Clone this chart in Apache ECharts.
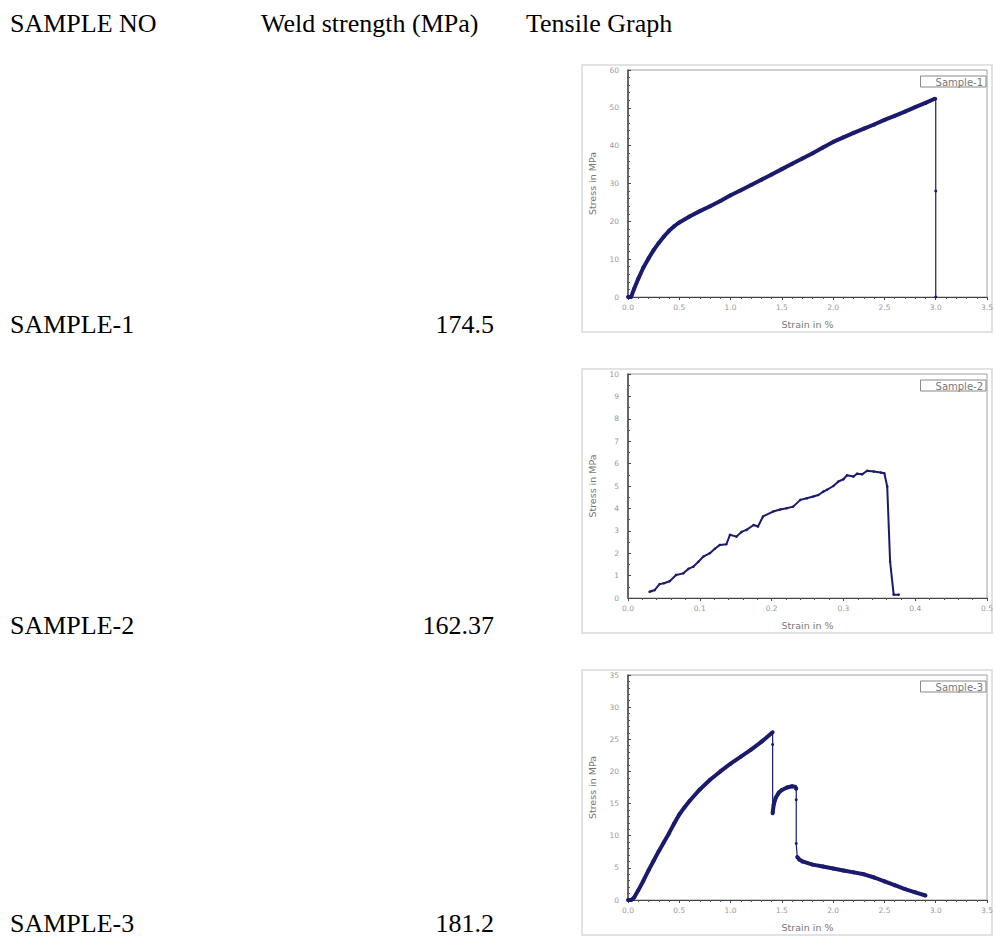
<!DOCTYPE html>
<html>
<head>
<meta charset="utf-8">
<script src="https://cdn.jsdelivr.net/npm/echarts@6/dist/echarts.min.js"></script>
<style>
  html, body { margin: 0; padding: 0; background: #fff; }
  #main { width: 996px; height: 937px; }
</style>
</head>
<body>
<div id="main"></div>
<script>
// table text
var headers = ['SAMPLE NO', 'Weld strength (MPa)', 'Tensile Graph'];
var sampleNames = ['SAMPLE-1', 'SAMPLE-2', 'SAMPLE-3'];
var weldStrength = ['174.5', '162.37', '181.2'];
var legendNames = ['Sample-1', 'Sample-2', 'Sample-3'];

// sample 1 (strain %, stress MPa)
var s1Strain = [0.0, 0.03, 0.06, 0.1, 0.15, 0.2, 0.25, 0.3, 0.35, 0.4, 0.45, 0.5, 0.6, 0.7, 0.8, 0.9, 1.0, 1.1, 1.2, 1.3, 1.4, 1.5, 1.6, 1.7, 1.8, 1.9, 2.0, 2.1, 2.2, 2.3, 2.4, 2.5, 2.6, 2.7, 2.8, 2.9, 2.99];
var s1Stress = [0, 0, 2.2, 4.8, 7.8, 10.2, 12.4, 14.3, 16, 17.5, 18.7, 19.7, 21.3, 22.7, 24, 25.4, 26.9, 28.2, 29.6, 31, 32.4, 33.8, 35.2, 36.6, 38, 39.5, 41, 42.2, 43.4, 44.5, 45.6, 46.8, 47.9, 49, 50.2, 51.3, 52.4];
var s1DropStrain = [3.0, 3.0, 3.0];
var s1DropStress = [52.4, 28, 0];

// sample 2
var s2Strain = [0.030, 0.033, 0.037, 0.044, 0.050, 0.058, 0.067, 0.077, 0.084, 0.091, 0.098, 0.105, 0.114, 0.121, 0.128, 0.137, 0.142, 0.151, 0.158, 0.165, 0.175, 0.181, 0.188, 0.202, 0.212, 0.221, 0.230, 0.240, 0.249, 0.258, 0.265, 0.272, 0.277, 0.286, 0.293, 0.300, 0.305, 0.314, 0.319, 0.326, 0.333, 0.342, 0.352, 0.357, 0.361, 0.365, 0.370, 0.377];
var s2Stress = [0.28, 0.31, 0.35, 0.62, 0.66, 0.75, 1.03, 1.1, 1.3, 1.4, 1.62, 1.85, 2.0, 2.2, 2.37, 2.4, 2.82, 2.74, 2.95, 3.04, 3.26, 3.19, 3.64, 3.86, 3.95, 4.01, 4.08, 4.38, 4.45, 4.53, 4.6, 4.75, 4.83, 5.0, 5.2, 5.3, 5.48, 5.42, 5.55, 5.52, 5.68, 5.65, 5.6, 5.57, 4.98, 1.62, 0.15, 0.15];

// sample 3
var s3RiseStrain = [0.0, 0.03, 0.06, 0.1, 0.15, 0.2, 0.25, 0.3, 0.35, 0.4, 0.45, 0.5, 0.55, 0.6, 0.7, 0.8, 0.9, 1.0, 1.1, 1.2, 1.3, 1.41];
var s3RiseStress = [0, 0, 0.4, 1.5, 3, 4.6, 6.1, 7.6, 9, 10.4, 11.9, 13.3, 14.4, 15.4, 17.2, 18.7, 20, 21.2, 22.3, 23.4, 24.6, 26.1];
var s3Drop1Strain = [1.41, 1.41, 1.41];
var s3Drop1Stress = [26.1, 24.2, 13.5];
var s3HumpStrain = [1.41, 1.42, 1.44, 1.47, 1.5, 1.55, 1.6, 1.63, 1.64];
var s3HumpStress = [13.5, 14.8, 15.9, 16.7, 17.1, 17.5, 17.7, 17.6, 17.3];
var s3Drop2Strain = [1.64, 1.64, 1.64, 1.65];
var s3Drop2Stress = [17.3, 15.6, 8.8, 6.7];
var s3TailStrain = [1.65, 1.67, 1.7, 1.8, 1.9, 2.0, 2.1, 2.2, 2.3, 2.4, 2.5, 2.6, 2.7, 2.8, 2.9];
var s3TailStress = [6.7, 6.3, 6.0, 5.5, 5.2, 4.9, 4.6, 4.3, 4.0, 3.5, 2.9, 2.3, 1.7, 1.2, 0.7];

function pairs(xs, ys) {
    return xs.map(function (x, i) { return [x, ys[i]]; });
}

var lineColor = '#1b1b6e';
var serif = '"Liberation Serif", "Times New Roman", serif';
var small = '"DejaVu Sans", Arial, sans-serif';

var myChart = echarts.init(document.getElementById('main'), null, {renderer: 'svg'});

// grid boxes for the three graphs
var grids = [
    {left: 628, top: 70, width: 360, height: 227},
    {left: 628, top: 374, width: 360, height: 224},
    {left: 628, top: 675, width: 360, height: 225}
];
var xRanges = [[0, 3.5, 0.5], [0, 0.5, 0.1], [0, 3.5, 0.5]];
var yRanges = [[0, 60, 10, 5], [0, 10, 1, 2], [0, 35, 5, 5]];

var gridOpts = grids.map(function (g) {
    return {left: g.left, top: g.top, width: g.width, height: g.height,
        show: true, borderColor: '#a0a0a0', borderWidth: 1, backgroundColor: '#fff'};
});

var xAxes = xRanges.map(function (r, i) {
    return {
        type: 'value', gridIndex: i, min: r[0], max: r[1], interval: r[2],
        name: 'Strain in %', nameLocation: 'middle', nameGap: 22,
        nameTextStyle: {fontSize: 9.5, color: '#777', fontFamily: small},
        axisLine: {show: true, onZero: false, lineStyle: {color: '#444', width: 1}},
        axisTick: {show: true, length: 3, lineStyle: {color: '#444'}},
        minorTick: {show: true, splitNumber: 5, length: 2, lineStyle: {color: '#555'}},
        splitLine: {show: false},
        axisLabel: {fontSize: 7.5, color: '#999', margin: 6, fontFamily: small,
            formatter: function (v) { return v.toFixed(1); }}
    };
});

var yAxes = yRanges.map(function (r, i) {
    return {
        type: 'value', gridIndex: i, min: r[0], max: r[1], interval: r[2],
        name: 'Stress in MPa', nameLocation: 'middle', nameGap: 31,
        nameTextStyle: {fontSize: 9.5, color: '#777', fontFamily: small},
        axisLine: {show: true, onZero: false, lineStyle: {color: '#444', width: 1.5}},
        axisTick: {show: true, inside: true, length: 3, lineStyle: {color: '#444'}},
        minorTick: {show: true, splitNumber: r[3], length: 2, lineStyle: {color: '#555'}},
        splitLine: {show: false},
        axisLabel: {fontSize: 7.5, color: '#999', margin: 9, fontFamily: small}
    };
});

function lineSeries(name, idx, data, width, symSize) {
    return {
        name: name, type: 'line', xAxisIndex: idx, yAxisIndex: idx,
        data: data, symbol: 'circle', symbolSize: symSize, showSymbol: true,
        lineStyle: {color: lineColor, width: width},
        itemStyle: {color: lineColor},
        silent: true, animation: false
    };
}

var series = [
    lineSeries(legendNames[0], 0, pairs(s1Strain, s1Stress), 4, 4),
    lineSeries(legendNames[0], 0, pairs(s1DropStrain, s1DropStress), 1.2, 3),
    lineSeries(legendNames[1], 1, pairs(s2Strain, s2Stress), 2, 2.5),
    lineSeries(legendNames[2], 2, pairs(s3RiseStrain, s3RiseStress), 4, 4),
    lineSeries(legendNames[2], 2, pairs(s3Drop1Strain, s3Drop1Stress), 1.2, 3),
    lineSeries(legendNames[2], 2, pairs(s3HumpStrain, s3HumpStress), 4, 4),
    lineSeries(legendNames[2], 2, pairs(s3Drop2Strain, s3Drop2Stress), 1.2, 3),
    lineSeries(legendNames[2], 2, pairs(s3TailStrain, s3TailStress), 4, 4)
];

var legends = grids.map(function (g, i) {
    return {
        data: [legendNames[i]], right: 10, top: g.top + 6, orient: 'vertical',
        icon: 'none', itemWidth: 0, itemHeight: 0, itemGap: 0,
        borderColor: '#888', borderWidth: 1, padding: [1, 3, 0, 10],
        textStyle: {fontSize: 10, color: '#777', fontFamily: small},
        selectedMode: false
    };
});

// table text and faint image frames
var graphics = [];
var headerX = [10, 261, 526];
headers.forEach(function (t, i) {
    graphics.push({type: 'text', x: headerX[i], y: 23,
        style: {text: t, font: '26px ' + serif, fill: '#000', verticalAlign: 'middle'}});
});
var rowY = [324, 625, 923];
sampleNames.forEach(function (t, i) {
    graphics.push({type: 'text', x: 10, y: rowY[i],
        style: {text: t, font: '26px ' + serif, fill: '#000', verticalAlign: 'middle'}});
    graphics.push({type: 'text', x: 494, y: rowY[i],
        style: {text: weldStrength[i], font: '26px ' + serif, fill: '#000',
            verticalAlign: 'middle', align: 'right'}});
});
grids.forEach(function (g) {
    graphics.push({type: 'rect', z: -1,
        shape: {x: 582, y: g.top - 5, width: 410, height: g.height + 40},
        style: {fill: 'none', stroke: '#e2e2e2', lineWidth: 2}});
});

myChart.setOption({
    backgroundColor: '#fff',
    animation: false,
    grid: gridOpts,
    xAxis: xAxes,
    yAxis: yAxes,
    legend: legends,
    series: series,
    graphic: graphics
});
</script>
</body>
</html>
